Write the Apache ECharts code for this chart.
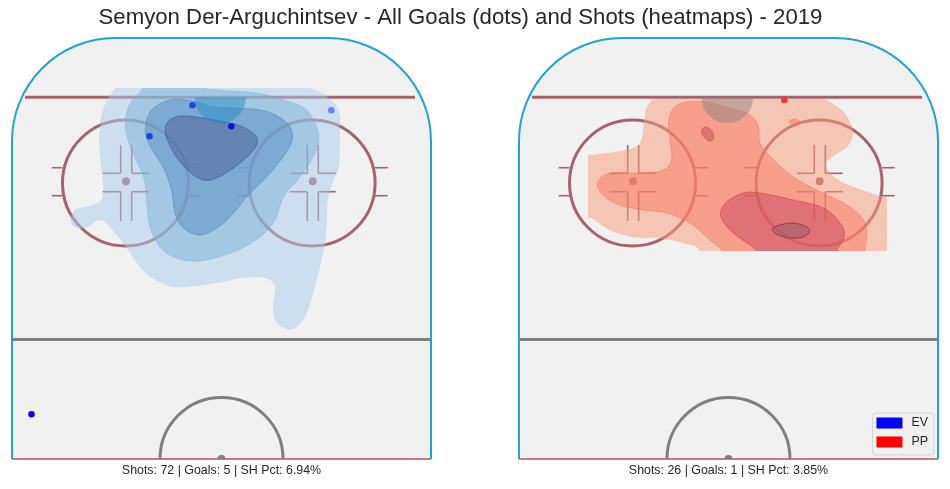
<!DOCTYPE html>
<html>
<head>
<meta charset="utf-8">
<style>html,body{margin:0;padding:0;background:#fff}#c{width:950px;height:489px}</style>
<script src="https://cdn.jsdelivr.net/npm/echarts@6/dist/echarts.min.js"></script>
</head>
<body>
<div id="c"></div>
<script>
const titleText = 'Semyon Der-Arguchintsev - All Goals (dots) and Shots (heatmaps) - 2019';
const captionEV = 'Shots: 72 | Goals: 5 | SH Pct: 6.94%';
const captionPP = 'Shots: 26 | Goals: 1 | SH Pct: 3.85%';

// goals, in rink image units (origin: centre of the red line)
const goalsEV = [[-29,353.7],[9.8,332.7],[-72,322.7],[109.8,348.7],[-190,44.7]];
const goalsEVColors = ['#1c46dc','#0018c8','#1c46dc','#6f80f4','#0000ff'];
const goalsPP = [[55.8,359]];

// density contours (outer to inner)
const evLevel1 = [[-105,371],[-95,382],[75,382],[89,371],[104,363],[117,349],[118,320],[117,292],[112,279],[106,259],[104,222],[98,192],[87,152],[78,135],[67,130],[55,137],[52,152],[54,172],[45,181],[25,182],[-8,176],[-45,172],[-65,179],[-81,192],[-98,216],[-115,236],[-123,239],[-135,232],[-146,232],[-151,239],[-146,249],[-135,252],[-123,256],[-118,266],[-120,292],[-122,316],[-120,342],[-113,361]];
const evLevel2 = [[-70,378],[-30,376],[-15,370],[35,366],[62,359],[85,349],[97,326],[93.5,306],[78.5,282],[62,262],[53.5,239],[38.5,222],[12,207],[-22,198],[-45,201],[-61.5,212],[-71.5,232],[-75,259],[-78,282],[-90,309],[-96,332],[-93,352],[-81.5,367]];
const evLevel3 = [[-51.5,359],[-28,358],[-8,352],[38.5,349],[62,339],[71,324],[65,307],[45,282],[25,262],[8.5,242],[-8,229],[-23,224],[-38,231],[-46.5,246],[-50,269],[-58,291],[-73,316],[-76,332],[-70,349]];
const evLevel4 = [[-55.5,334],[-48,341],[-35,343],[-8,339],[18.5,333],[35,322],[32,309],[12,291],[-11.5,279],[-28,284],[-45,302],[-55,322]];

const ppLevel1 = [[-82,351],[-75,360],[-62,372],[80,372],[96.5,360],[115,347],[124,329],[120,314],[106.5,304],[97.5,296],[101.5,286],[115,276],[150,263],[168,256],[168,198],[-12,198],[-30,211],[-45,216],[-68.5,221],[-95,222],[-118.5,229],[-135,240],[-152,250],[-152,298],[-135,304],[-118.5,306],[-95,311],[-87,319],[-84,339]];
const ppLevel2 = [[-60,336],[-55,351],[-42,357],[-22,357],[-2,352],[21.5,344],[30,332],[31.5,316],[45,299],[65,282],[88,269],[115,256],[133,242],[138,227],[136,208],[130,198],[6,198],[-5,208],[-18.5,219],[-38.5,236],[-62,246],[-85,249],[-108.5,254],[-123.5,262],[-131,273],[-127,282],[-115,286],[-85,286],[-65,289],[-57,299],[-58,316]];
const ppLevel3 = [[-8,244],[-2,257],[15,266],[31.5,266],[65,259],[95,251],[111.5,236],[116,224],[110,212],[98,200],[46,200],[21.5,214],[1.5,229]];
const ppLevel4 = [[43.8,229],[48,233],[63,236],[76.5,233],[81,228],[75,222],[61.5,221],[50,224]];
const ppIsland1 = [[-26.8,329],[-21.8,332],[-15.8,327],[-14.8,321],[-18.5,318],[-24.5,322]];
const ppIsland2 = [[60.8,338],[66.5,340],[72,337],[68,334],[63,335]];

// rink features
const faceoffCenters = [[-96,276],[90.6,276]];
const faceoffDots = [[-95.5,277.7],[91.2,277.7]];
const hashSegments = [
  [[-169.8,291.3],[-159,291.3]],[[-169.8,263.3],[-159,263.3]],[[-33.5,291.3],[-20.5,291.3]],[[-33.5,263.3],[-20.5,263.3]],
  [[16.2,291.3],[28.5,291.3]],[[16.2,263.3],[28.5,263.3]],[[153.5,291.3],[166.2,291.3]],[[153.5,263.3],[166.2,263.3]],
  [[-100.8,314],[-100.8,285.7]],[[-89.8,314],[-89.8,285.7]],[[-100.8,267.3],[-100.8,238]],[[-89.8,267.3],[-89.8,238]],
  [[-118.8,285.7],[-100.8,285.7]],[[-89.8,285.7],[-72.5,285.7]],[[-118.8,267.3],[-100.8,267.3]],[[-89.8,267.3],[-72.5,267.3]],
  [[85.8,314],[85.8,285.7]],[[96.8,314],[96.8,285.7]],[[85.8,267.3],[85.8,238]],[[96.8,267.3],[96.8,238]],
  [[68.5,285.7],[85.8,285.7]],[[96.8,285.7],[114.2,285.7]],[[68.5,267.3],[85.8,267.3]],[[96.8,267.3],[114.2,267.3]]
];
const goalLine = [[-196.5,361.7],[193.5,361.7]];
const blueLine = [[-210,119.5],[210,119.5]];
const redLine = [[-209.5,0],[209.5,0]];
const boardLeftX = -209.5, boardRightX = 209.5, cornerY = 318, cornerX = 106.5, cornerR = 103, boardTopY = 421;

function line(api, seg, color, w) {
  const a = api.coord(seg[0]), b = api.coord(seg[1]);
  return {type:'line', shape:{x1:a[0],y1:a[1],x2:b[0],y2:b[1]}, style:{stroke:color,lineWidth:w,fill:null}};
}
// closed Catmull-Rom through the screen positions of a contour's vertices, for a rounded outline
function roundOutline(p) {
  const n = p.length, out = [];
  for (let i = 0; i < n; i++) {
    const a = p[(i+n-1)%n], b = p[i], c = p[(i+1)%n], d = p[(i+2)%n];
    for (let s = 0; s < 8; s++) {
      const t = s/8, t2 = t*t, t3 = t2*t;
      out.push([0,1].map(k => 0.5*(2*b[k] + (c[k]-a[k])*t + (2*a[k]-5*b[k]+4*c[k]-d[k])*t2 + (3*b[k]-a[k]-3*c[k]+d[k])*t3)));
    }
  }
  return out;
}
function rinkSeries(grid) {
  return {
    type:'custom', xAxisIndex:grid, yAxisIndex:grid, silent:true, animation:false, data:[0], tooltip:{show:false},
    encode:{x:0}, renderItem(params, api) {
      const kids = [];
      const r = api.size([cornerR,0])[0];
      const bg = '#f1f1f1', board = '#1fa4d6', red = '#a5636a', grey = '#7f7f7f';
      const cL = api.coord([-cornerX,cornerY]), cR = api.coord([cornerX,cornerY]);
      const tl = api.coord([boardLeftX,cornerY]), br = api.coord([boardRightX,0]);
      const top = api.coord([-cornerX,boardTopY]);
      kids.push({type:'rect',shape:{x:tl[0],y:tl[1],width:br[0]-tl[0],height:br[1]-tl[1]},style:{fill:bg}});
      kids.push({type:'rect',shape:{x:top[0],y:top[1],width:cR[0]-cL[0],height:cL[1]-top[1]},style:{fill:bg}});
      kids.push({type:'sector',shape:{cx:cL[0],cy:cL[1],r:r,r0:0,startAngle:Math.PI,endAngle:1.5*Math.PI,clockwise:true},style:{fill:bg}});
      kids.push({type:'sector',shape:{cx:cR[0],cy:cR[1],r:r,r0:0,startAngle:1.5*Math.PI,endAngle:2*Math.PI,clockwise:true},style:{fill:bg}});
      faceoffDots.forEach(p => { const c = api.coord(p); kids.push({type:'circle',shape:{cx:c[0],cy:c[1],r:api.size([4,0])[0]},style:{fill:red}}); });
      hashSegments.forEach(s => kids.push(line(api,s,red,1.6)));
      faceoffCenters.forEach(p => { const c = api.coord(p); kids.push({type:'circle',shape:{cx:c[0],cy:c[1],r:api.size([63,0])[0]},style:{fill:null,stroke:red,lineWidth:3}}); });
      kids.push(line(api,goalLine,red,3));
      kids.push(line(api,blueLine,grey,3));
      kids.push(line(api,redLine,'#b0525c',1.3));
      const ci = api.coord([0,0]);
      kids.push({type:'arc',shape:{cx:ci[0],cy:ci[1],r:api.size([61.5,0])[0],startAngle:Math.PI,endAngle:2*Math.PI,clockwise:true},style:{fill:null,stroke:grey,lineWidth:3}});
      kids.push({type:'sector',shape:{cx:ci[0],cy:ci[1],r:api.size([4,0])[0],r0:0,startAngle:Math.PI,endAngle:2*Math.PI,clockwise:true},style:{fill:grey}});
      kids.push(line(api,[[boardLeftX,0],[boardLeftX,cornerY]],board,2));
      kids.push(line(api,[[boardRightX,0],[boardRightX,cornerY]],board,2));
      kids.push(line(api,[[-cornerX,boardTopY],[cornerX,boardTopY]],board,2));
      kids.push({type:'arc',shape:{cx:cL[0],cy:cL[1],r:r,startAngle:Math.PI,endAngle:1.5*Math.PI,clockwise:true},style:{fill:null,stroke:board,lineWidth:2}});
      kids.push({type:'arc',shape:{cx:cR[0],cy:cR[1],r:r,startAngle:1.5*Math.PI,endAngle:2*Math.PI,clockwise:true},style:{fill:null,stroke:board,lineWidth:2}});
      return {type:'group',children:kids};
    }
  };
}
function contour(grid, pts, fill, stroke, box) {
  return {
    type:'custom', xAxisIndex:grid, yAxisIndex:grid, silent:true, animation:false, data:pts, encode:{x:0,y:1},
    renderItem(params, api) {
      if (params.dataIndex !== 0) return null;
      const el = {type:'polygon', shape:{points:roundOutline(pts.map(p => api.coord(p)))},
        style:{fill:fill, stroke:stroke, lineWidth:0.7}};
      if (box) {
        const a = api.coord([box[0],box[3]]), b = api.coord([box[2],box[1]]);
        el.clipPath = {type:'rect', shape:{x:a[0],y:a[1],width:b[0]-a[0],height:b[1]-a[1]}};
      }
      return {type:'group',children:[el]};
    }
  };
}
const creaseCenter = [-1.25,361.7], creaseR = 25.8;
function crease(grid, fill) {
  return {
    type:'custom', xAxisIndex:grid, yAxisIndex:grid, silent:true, animation:false, data:[creaseCenter], encode:{x:0,y:1},
    renderItem(params, api) {
      const c = api.coord(creaseCenter);
      return {type:'sector',shape:{cx:c[0],cy:c[1],r:api.size([creaseR,0])[0],r0:0,startAngle:0,endAngle:Math.PI,clockwise:true},style:{fill:fill}};
    }
  };
}
const evBox = [-210,0,210,371], ppBox = [-140.5,208,158.5,360];
const series = [
  rinkSeries(0),
  contour(0,evLevel1,'rgba(170,206,236,.5)','rgba(150,195,230,.3)',evBox),
  contour(0,evLevel2,'rgba(121,179,214,.5)','rgba(90,160,210,.4)',evBox),
  contour(0,evLevel3,'rgba(87,139,196,.5)','rgba(40,120,190,.6)',evBox),
  contour(0,evLevel4,'rgba(75,96,147,.5)','rgba(20,80,160,.8)',evBox),
  crease(0,'rgba(35,140,195,.5)'),
  {type:'scatter',name:'EV',xAxisIndex:0,yAxisIndex:0,symbolSize:6.5,silent:true,animation:false,itemStyle:{color:'#0000ff',opacity:1},
   data:goalsEV.map((p,i)=>({value:p,itemStyle:{color:goalsEVColors[i]}}))},
  rinkSeries(1),
  contour(1,ppLevel1,'rgba(252,156,120,.5)','rgba(250,170,140,.3)',ppBox),
  contour(1,ppLevel2,'rgba(246,120,96,.5)','rgba(250,100,70,.6)',ppBox),
  contour(1,ppIsland2,'rgba(246,120,96,.5)','rgba(250,100,70,.6)',ppBox),
  contour(1,ppLevel3,'rgba(202,67,94,.5)','rgba(225,40,50,.7)',ppBox),
  contour(1,ppIsland1,'rgba(202,67,94,.5)','rgba(225,40,50,.7)',ppBox),
  contour(1,ppLevel4,'rgba(144,91,108,.5)','rgba(120,30,50,.9)',ppBox),
  crease(1,'rgba(146,130,130,.5)'),
  {type:'scatter',name:'PP',xAxisIndex:1,yAxisIndex:1,symbolSize:6.5,silent:true,animation:false,itemStyle:{color:'#ff0000',opacity:1},
   data:goalsPP.map(p=>({value:p,itemStyle:{color:'#ff2e2e'}}))}
];
const font = '"Liberation Sans", Arial, sans-serif', ink = '#262626';
const ax = (min,max,gridIndex) => ({type:'value',min,max,gridIndex,show:false,scale:false});
const chart = echarts.init(document.getElementById('c'), null, {renderer:'canvas'});
chart.setOption({
  animation:false,
  backgroundColor:'#ffffff',
  title:[
    {text:titleText,left:460.5,top:7,textAlign:'center',padding:0,textStyle:{fontFamily:font,fontSize:22.2,fontWeight:'normal',color:ink}},
    {text:captionEV,left:221.5,top:465,textAlign:'center',padding:0,textStyle:{fontFamily:font,fontSize:12.4,fontWeight:'normal',color:ink}},
    {text:captionPP,left:728.5,top:465,textAlign:'center',padding:0,textStyle:{fontFamily:font,fontSize:12.4,fontWeight:'normal',color:ink}}
  ],
  legend:{data:['EV','PP'],right:16,top:413,orient:'vertical',icon:'rect',itemWidth:26,itemHeight:11,itemGap:7,padding:[4,6,7,4],
    selectedMode:false,borderColor:'#d4d4d4',borderWidth:1,borderRadius:3,backgroundColor:'rgba(240,240,240,.85)',
    textStyle:{fontFamily:font,fontSize:12.4,color:ink,padding:[0,0,0,4]}},
  grid:[{left:12,top:39,width:419,height:420},{left:519,top:39,width:419,height:420}],
  xAxis:[ax(-209.5,209.5,0),ax(-209.5,209.5,1)],
  yAxis:[ax(0,420,0),ax(0,420,1)],
  series
});
</script>
</body>
</html>
